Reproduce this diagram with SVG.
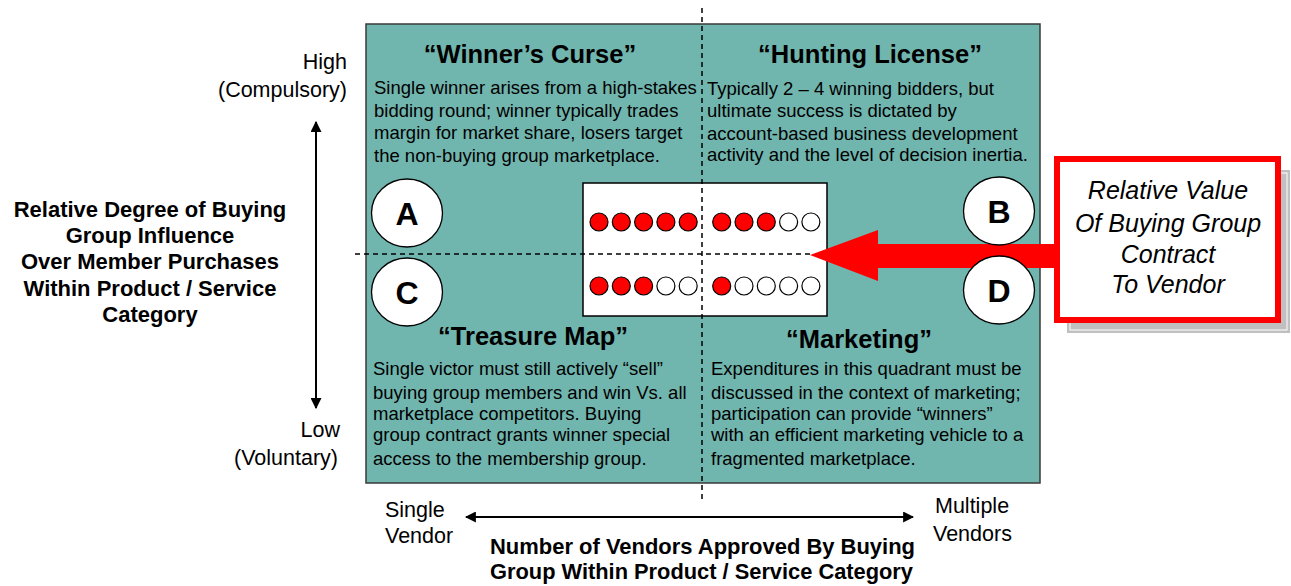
<svg xmlns="http://www.w3.org/2000/svg" width="1291" height="586" viewBox="0 0 1291 586">
  <style>
    text { font-family: "Liberation Sans", Arial, sans-serif; fill: #000; }
    .title { font-size: 25.5px; font-weight: bold; text-anchor: middle; }
    .body { font-size: 18.5px; }
    .axis { font-size: 21.5px; }
    .axisR { font-size: 21.5px; text-anchor: end; }
    .bold { font-size: 22px; font-weight: bold; text-anchor: middle; }
    .letter { font-size: 32px; font-weight: bold; text-anchor: middle; }
    .callout { font-size: 25px; font-style: italic; text-anchor: middle; }
    .dash { stroke: #000; stroke-width: 1.5; stroke-dasharray: 5 4; fill: none; }
    .dotOn { fill: #ff0000; stroke: #000; stroke-width: 1.2; }
    .dotOff { fill: #fff; stroke: #000; stroke-width: 1.2; }
    .badge { fill: #fff; stroke: #000; stroke-width: 1.3; }
  </style>
  <defs>
    <marker id="ah" viewBox="0 0 10 10" refX="9" refY="5" markerWidth="11" markerHeight="11" markerUnits="userSpaceOnUse" orient="auto-start-reverse">
      <path d="M0,0 L10,5 L0,10 z" fill="#000"/>
    </marker>
  </defs>

  <rect width="1291" height="586" fill="#fff"/>

  <!-- quadrant field -->
  <g id="matrix">
    <rect x="366" y="24" width="674" height="459" fill="#70b5ae" stroke="#3a3a3a" stroke-width="1.5"/>
  </g>

  <!-- rating panel with dots -->
  <g id="rating-panel">
    <rect x="583" y="183" width="244" height="133" fill="#fff" stroke="#000" stroke-width="1.5"/>
    <circle class="dotOn" cx="599" cy="222" r="9"/>
    <circle class="dotOn" cx="621.3" cy="222" r="9"/>
    <circle class="dotOn" cx="643.6" cy="222" r="9"/>
    <circle class="dotOn" cx="665.9" cy="222" r="9"/>
    <circle class="dotOn" cx="688.2" cy="222" r="9"/>
    <circle class="dotOn" cx="721.7" cy="222" r="9"/>
    <circle class="dotOn" cx="744" cy="222" r="9"/>
    <circle class="dotOn" cx="766.3" cy="222" r="9"/>
    <circle class="dotOff" cx="788.6" cy="222" r="9"/>
    <circle class="dotOff" cx="810.9" cy="222" r="9"/>

    <circle class="dotOn" cx="599" cy="286" r="9"/>
    <circle class="dotOn" cx="621.3" cy="286" r="9"/>
    <circle class="dotOn" cx="643.6" cy="286" r="9"/>
    <circle class="dotOff" cx="665.9" cy="286" r="9"/>
    <circle class="dotOff" cx="688.2" cy="286" r="9"/>
    <circle class="dotOn" cx="721.7" cy="286" r="9"/>
    <circle class="dotOff" cx="744" cy="286" r="9"/>
    <circle class="dotOff" cx="766.3" cy="286" r="9"/>
    <circle class="dotOff" cx="788.6" cy="286" r="9"/>
    <circle class="dotOff" cx="810.9" cy="286" r="9"/>
  </g>

  <!-- connectors: quadrant dividers, axes and value arrow -->
  <g id="connectors">
    <line class="dash" x1="702" y1="8" x2="702" y2="500"/>
    <line class="dash" x1="355" y1="254" x2="812" y2="254"/>
    <line x1="316" y1="122" x2="316" y2="408" stroke="#000" stroke-width="2" marker-start="url(#ah)" marker-end="url(#ah)"/>
    <line x1="466" y1="517" x2="913" y2="517" stroke="#000" stroke-width="2" marker-start="url(#ah)" marker-end="url(#ah)"/>
    <polygon points="810,255 878,230 878,244 1056,244 1056,268 878,268 878,281" fill="#ff0000"/>
  </g>

  <!-- quadrant A -->
  <g id="quadrant-a">
    <text class="title" x="530" y="63">“Winner’s Curse”</text>
    <text class="body" x="374" y="94">Single winner arises from a high-stakes</text>
    <text class="body" x="374" y="117">bidding round; winner typically trades</text>
    <text class="body" x="374" y="139">margin for market share, losers target</text>
    <text class="body" x="374" y="162">the non-buying group marketplace.</text>
    <ellipse class="badge" cx="407" cy="213" rx="35.5" ry="34"/>
    <text class="letter" x="407" y="225">A</text>
  </g>

  <!-- quadrant B -->
  <g id="quadrant-b">
    <text class="title" x="870" y="63">“Hunting License”</text>
    <text class="body" x="707" y="95">Typically 2 – 4 winning bidders, but</text>
    <text class="body" x="707" y="117">ultimate success is dictated by</text>
    <text class="body" x="707" y="140">account-based business development</text>
    <text class="body" x="707" y="161">activity and the level of decision inertia.</text>
    <ellipse class="badge" cx="999" cy="211" rx="35.5" ry="34"/>
    <text class="letter" x="999" y="223">B</text>
  </g>

  <!-- quadrant C -->
  <g id="quadrant-c">
    <ellipse class="badge" cx="407" cy="292" rx="35.5" ry="34"/>
    <text class="letter" x="407" y="304">C</text>
    <text class="title" x="533" y="345">“Treasure Map”</text>
    <text class="body" x="373" y="375">Single victor must still actively “sell”</text>
    <text class="body" x="373" y="399">buying group members and win Vs. all</text>
    <text class="body" x="373" y="420">marketplace competitors. Buying</text>
    <text class="body" x="373" y="441">group contract grants winner special</text>
    <text class="body" x="373" y="465">access to the membership group.</text>
  </g>

  <!-- quadrant D -->
  <g id="quadrant-d">
    <ellipse class="badge" cx="999" cy="290" rx="35.5" ry="34"/>
    <text class="letter" x="999" y="302">D</text>
    <text class="title" x="859" y="348">“Marketing”</text>
    <text class="body" x="711" y="375">Expenditures in this quadrant must be</text>
    <text class="body" x="711" y="399">discussed in the context of marketing;</text>
    <text class="body" x="711" y="420">participation can provide “winners”</text>
    <text class="body" x="711" y="441">with an efficient marketing vehicle to a</text>
    <text class="body" x="711" y="465">fragmented marketplace.</text>
  </g>

  <!-- callout box -->
  <g id="value-callout">
    <rect x="1067" y="170" width="223" height="163" fill="#c0c0c0"/>
    <rect x="1070" y="173" width="217" height="157" fill="none" stroke="#fff" stroke-width="1"/>
    <rect x="1057" y="159" width="221" height="161" fill="#fff" stroke="#ff0000" stroke-width="6"/>
    <text class="callout" x="1168" y="199">Relative Value</text>
    <text class="callout" x="1168" y="232">Of Buying Group</text>
    <text class="callout" x="1168" y="263">Contract</text>
    <text class="callout" x="1168" y="293">To Vendor</text>
  </g>

  <!-- vertical axis labels -->
  <g id="y-axis-labels">
    <text class="axisR" x="347" y="69">High</text>
    <text class="axisR" x="347" y="97">(Compulsory)</text>
    <text class="axisR" x="340" y="437">Low</text>
    <text class="axisR" x="338" y="465">(Voluntary)</text>
    <text class="bold" x="150" y="217">Relative Degree of Buying</text>
    <text class="bold" x="150" y="243">Group Influence</text>
    <text class="bold" x="150" y="269">Over Member Purchases</text>
    <text class="bold" x="150" y="296">Within Product / Service</text>
    <text class="bold" x="150" y="322">Category</text>
  </g>

  <!-- horizontal axis labels -->
  <g id="x-axis-labels">
    <text class="axis" x="385" y="517">Single</text>
    <text class="axis" x="385" y="543">Vendor</text>
    <text class="axis" x="935" y="513">Multiple</text>
    <text class="axis" x="933" y="541">Vendors</text>
    <text class="bold" x="490" y="554" style="text-anchor:start" textLength="425" lengthAdjust="spacingAndGlyphs">Number of Vendors Approved By Buying</text>
    <text class="bold" x="490" y="579" style="text-anchor:start" textLength="423" lengthAdjust="spacingAndGlyphs">Group Within Product / Service Category</text>
  </g>
</svg>
